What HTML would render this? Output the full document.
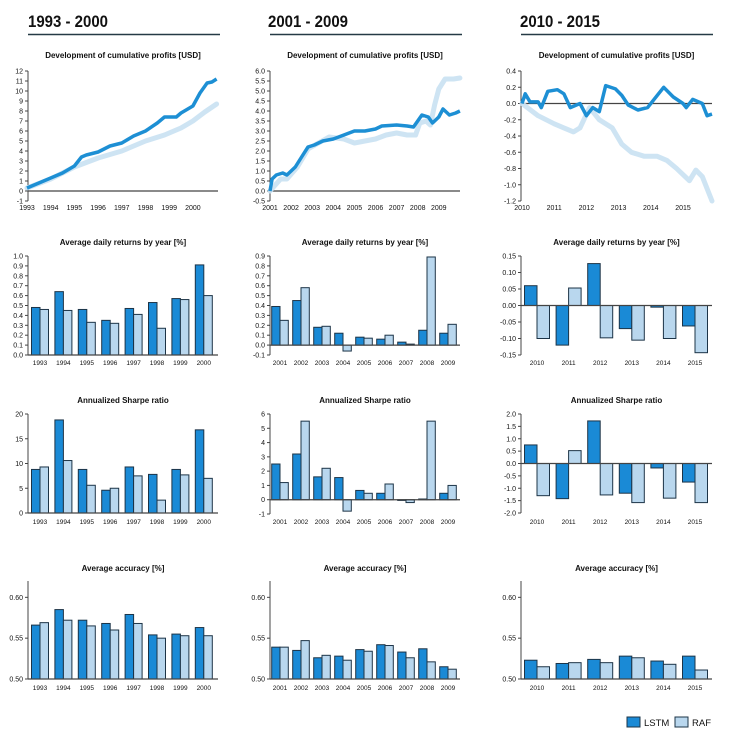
<!DOCTYPE html>
<html><head><meta charset="utf-8"><style>
body{margin:0;background:#fff}
svg{display:block;font-family:"Liberation Sans",sans-serif}
</style></head><body>
<svg id="c" width="731" height="735" viewBox="0 0 731 735" xmlns="http://www.w3.org/2000/svg"></svg>
<script>
// ---------- data ----------
const years1 = ["1993","1994","1995","1996","1997","1998","1999","2000"];
const years2 = ["2001","2002","2003","2004","2005","2006","2007","2008","2009"];
const years3 = ["2010","2011","2012","2013","2014","2015"];

const cum1LstmT = [1993,1993.5,1994,1994.5,1995,1995.3,1995.5,1996,1996.5,1997,1997.5,1998,1998.5,1998.8,1999.3,1999.5,2000,2000.3,2000.6,2000.8,2001];
const cum1LstmV = [0.3,0.8,1.3,1.8,2.5,3.4,3.6,3.9,4.5,4.8,5.5,6.0,6.8,7.4,7.4,7.8,8.5,9.8,10.8,10.9,11.2];
const cum1RafT = [1993,1994,1995,1996,1997,1998,1998.8,1999.5,2000,2000.5,2001];
const cum1RafV = [0.3,1.2,2.4,3.3,4.0,5.0,5.6,6.3,7.0,7.9,8.7];

const cum2LstmT = [2001,2001.1,2001.3,2001.6,2001.8,2002.2,2002.5,2002.8,2003.1,2003.5,2004,2004.5,2005,2005.5,2006,2006.3,2007,2007.5,2007.8,2008,2008.2,2008.5,2008.7,2009,2009.2,2009.5,2009.8,2010];
const cum2LstmV = [0.0,0.6,0.8,0.9,0.8,1.2,1.7,2.2,2.3,2.5,2.6,2.8,3.0,3.0,3.1,3.25,3.3,3.25,3.2,3.5,3.8,3.7,3.4,3.7,4.1,3.8,3.9,4.0];
const cum2RafT = [2001,2001.5,2001.8,2002.3,2002.8,2003.3,2003.8,2004.5,2005,2005.5,2006,2006.5,2007,2007.5,2007.9,2008.1,2008.4,2008.6,2008.8,2009,2009.3,2009.7,2010];
const cum2RafV = [0.0,0.6,0.6,1.2,2.1,2.4,2.7,2.6,2.4,2.5,2.6,2.8,2.9,2.8,2.8,3.4,3.5,3.3,4.3,5.1,5.6,5.6,5.65];

const cum3LstmT = [2010,2010.1,2010.25,2010.5,2010.6,2010.8,2011.1,2011.3,2011.5,2011.8,2012,2012.2,2012.4,2012.6,2012.9,2013.1,2013.3,2013.6,2013.9,2014.2,2014.4,2014.7,2015,2015.1,2015.3,2015.6,2015.75,2015.9];
const cum3LstmV = [0.0,0.12,0.02,0.02,-0.05,0.15,0.17,0.12,-0.05,0.0,-0.15,-0.05,-0.1,0.22,0.18,0.1,-0.02,-0.08,-0.05,0.1,0.2,0.08,0.0,-0.05,0.05,0.0,-0.15,-0.13];
const cum3RafT = [2010,2010.5,2011,2011.3,2011.6,2011.8,2012.1,2012.4,2012.8,2013.1,2013.4,2013.8,2014.2,2014.5,2014.8,2015.2,2015.4,2015.6,2015.9];
const cum3RafV = [0.0,-0.15,-0.25,-0.3,-0.35,-0.3,-0.05,-0.2,-0.3,-0.5,-0.6,-0.65,-0.65,-0.7,-0.8,-0.95,-0.82,-0.9,-1.2];

const ret1Lstm = [0.48,0.64,0.46,0.35,0.47,0.53,0.57,0.91];
const ret1Raf  = [0.46,0.45,0.33,0.32,0.41,0.27,0.56,0.60];
const ret2Lstm = [0.39,0.45,0.18,0.12,0.08,0.06,0.03,0.15,0.12];
const ret2Raf  = [0.25,0.58,0.19,-0.06,0.07,0.10,0.01,0.89,0.21];
const ret3Lstm = [0.06,-0.12,0.127,-0.07,-0.005,-0.062];
const ret3Raf  = [-0.10,0.053,-0.098,-0.105,-0.10,-0.143];

const sh1Lstm = [8.8,18.8,8.8,4.6,9.3,7.8,8.8,16.8];
const sh1Raf  = [9.3,10.6,5.6,5.0,7.5,2.6,7.7,7.0];
const sh2Lstm = [2.5,3.2,1.6,1.55,0.65,0.45,-0.05,0.05,0.45];
const sh2Raf  = [1.2,5.5,2.2,-0.8,0.45,1.1,-0.2,5.5,1.0];
const sh3Lstm = [0.75,-1.42,1.72,-1.2,-0.18,-0.75];
const sh3Raf  = [-1.3,0.52,-1.27,-1.58,-1.4,-1.58];

const acc1Lstm = [0.566,0.585,0.572,0.568,0.579,0.554,0.555,0.563];
const acc1Raf  = [0.569,0.572,0.565,0.560,0.568,0.550,0.553,0.553];
const acc2Lstm = [0.539,0.535,0.526,0.528,0.536,0.542,0.533,0.537,0.515];
const acc2Raf  = [0.539,0.547,0.529,0.523,0.534,0.541,0.526,0.521,0.512];
const acc3Lstm = [0.523,0.519,0.524,0.528,0.522,0.528];
const acc3Raf  = [0.515,0.520,0.520,0.526,0.518,0.511];

const cumTicks1 = [-1,0,1,2,3,4,5,6,7,8,9,10,11,12];
const cumTicks2 = [-0.5,0,0.5,1,1.5,2,2.5,3,3.5,4,4.5,5,5.5,6];
const cumTicks3 = [-1.2,-1.0,-0.8,-0.6,-0.4,-0.2,0,0.2,0.4];
const retTicks1 = [0,0.1,0.2,0.3,0.4,0.5,0.6,0.7,0.8,0.9,1.0];
const retTicks2 = [-0.1,0,0.1,0.2,0.3,0.4,0.5,0.6,0.7,0.8,0.9];
const retTicks3 = [-0.15,-0.10,-0.05,0,0.05,0.10,0.15];
const shTicks1 = [0,5,10,15,20];
const shTicks2 = [-1,0,1,2,3,4,5,6];
const shTicks3 = [-2,-1.5,-1,-0.5,0,0.5,1,1.5,2];
const accTicks = [0.50,0.55,0.60];

// ---------- drawing ----------
const svg = document.getElementById('c');
const NS = 'http://www.w3.org/2000/svg';
const BLUE = '#1a8ad6', LIGHT = '#b9d7ee', DARK = '#1d3447', AX = '#444';
function mk(tag, attrs, parent){const e=document.createElementNS(NS,tag);for(const k in attrs)e.setAttribute(k,attrs[k]);(parent||svg).appendChild(e);return e;}
function txt(x,y,s,size,anchor,weight,parent){const t=mk('text',{x:x,y:y,'font-size':size,'text-anchor':anchor||'middle','font-weight':weight||'normal',fill:'#111'},parent);t.textContent=s;return t;}
function lin(d0,d1,r0,r1){return v=>r0+(v-d0)*(r1-d0===0?0:(r1-r0)/(d1-d0));}

const cols = [
 {x0:28,x1:218,g0:40,step:23.4,bw:8.5,header:"1993 - 2000",hx:28,hw:80,years:years1,t0:1993,tx0:27,tstep:23.7},
 {x0:270,x1:460,g0:280,step:21.0,bw:8.3,header:"2001 - 2009",hx:268,hw:80,years:years2,t0:2001,tx0:270,tstep:21.1},
 {x0:521,x1:712,g0:537,step:31.6,bw:12.5,header:"2010 - 2015",hx:520,hw:80,years:years3,t0:2010,tx0:522,tstep:32.2}
];

function fmt(v,dec){return v.toFixed(dec).replace('-','-');}

function yAxis(g,c,ticks,y,dec,top,bot){
  mk('line',{x1:c.x0,y1:top,x2:c.x0,y2:bot,stroke:AX,'stroke-width':1},g);
  ticks.forEach(v=>{const yy=y(v);
    mk('line',{x1:c.x0-3,y1:yy,x2:c.x0,y2:yy,stroke:AX,'stroke-width':1},g);
    txt(c.x0-5,yy+2.5,fmt(v,dec),7,'end','normal',g);});
}

function linePanel(ci,name,lT,lV,rT,rV,ticks,dec,vmin,vmax){
  const c=cols[ci];
  const g=mk('g',{});
  
  
  const y=lin(vmin,vmax,201,71);
  const x=t=>c.tx0+(t-c.t0)*c.tstep;
  txt((c.x0+c.x1)/2,58,'Development of cumulative profits [USD]',8,'middle','bold',g);
  yAxis(g,c,ticks,y,dec,71,201);
  mk('line',{x1:c.x0,y1:y(0),x2:c.x1,y2:y(0),stroke:AX,'stroke-width':1.2},g);
  c.years.forEach((s,i)=>{txt(x(c.t0+i),210,s,7,'middle','normal',g);});
  const pr=rT.map((t,i)=>x(t).toFixed(1)+','+y(rV[i]).toFixed(1)).join(' ');
  const p1=mk('polyline',{points:pr,fill:'none',stroke:'#c9e1f2','stroke-width':5,'stroke-linejoin':'round','stroke-linecap':'round',opacity:0.9},g);
  
  
  const pl=lT.map((t,i)=>x(t).toFixed(1)+','+y(lV[i]).toFixed(1)).join(' ');
  const p2=mk('polyline',{points:pl,fill:'none',stroke:'#1d8fd4','stroke-width':3.5,'stroke-linejoin':'round'},g);
  
  
}

function barPanel(ci,name,title,titleY,lv,rv,ticks,dec,vmin,vmax,top,bot,labY,baseV){
  const c=cols[ci];
  const g=mk('g',{});
  
  
  const y=lin(vmin,vmax,bot,top);
  txt((c.x0+c.x1)/2,titleY,title,8,'middle','bold',g);
  const b=y(baseV);
  lv.forEach((v,i)=>{const cx=c.g0+i*c.step;
    const r1=mk('rect',{x:cx-c.bw,y:Math.min(y(v),b),width:c.bw,height:Math.max(Math.abs(y(v)-b),0.5),fill:BLUE,stroke:DARK,'stroke-width':1},g);
    
    
    const w=rv[i];
    const r2=mk('rect',{x:cx,y:Math.min(y(w),b),width:c.bw,height:Math.max(Math.abs(y(w)-b),0.5),fill:LIGHT,stroke:DARK,'stroke-width':1},g);
    
    
    txt(cx,labY,c.years[i],6.5,'middle','normal',g);
  });
  yAxis(g,c,ticks,y,dec,top,bot);
  mk('line',{x1:c.x0,y1:b,x2:c.x1,y2:b,stroke:AX,'stroke-width':1.2},g);
}

cols.forEach((c,i)=>{
  const h=txt(c.hx,27,c.header,17,'start','bold');
  h.setAttribute('textLength',c.hw);
  h.setAttribute('lengthAdjust','spacingAndGlyphs');
  
  
  mk('line',{x1:c.x0,y1:34.5,x2:c.x0+192,y2:34.5,stroke:'#253a45','stroke-width':1.5});
});

linePanel(0,'cum-profit-1993-2000',cum1LstmT,cum1LstmV,cum1RafT,cum1RafV,cumTicks1,0,-1,12);
linePanel(1,'cum-profit-2001-2009',cum2LstmT,cum2LstmV,cum2RafT,cum2RafV,cumTicks2,1,-0.5,6);
linePanel(2,'cum-profit-2010-2015',cum3LstmT,cum3LstmV,cum3RafT,cum3RafV,cumTicks3,1,-1.2,0.4);

barPanel(0,'returns-1993-2000','Average daily returns by year [%]',245,ret1Lstm,ret1Raf,retTicks1,1,0,1.0,256,355,365,0);
barPanel(1,'returns-2001-2009','Average daily returns by year [%]',245,ret2Lstm,ret2Raf,retTicks2,1,-0.1,0.9,256,355,365,0);
barPanel(2,'returns-2010-2015','Average daily returns by year [%]',245,ret3Lstm,ret3Raf,retTicks3,2,-0.15,0.15,256,355,365,0);

barPanel(0,'sharpe-1993-2000','Annualized Sharpe ratio',403,sh1Lstm,sh1Raf,shTicks1,0,0,20,414,513,524,0);
barPanel(1,'sharpe-2001-2009','Annualized Sharpe ratio',403,sh2Lstm,sh2Raf,shTicks2,0,-1,6,414,514,524,0);
barPanel(2,'sharpe-2010-2015','Annualized Sharpe ratio',403,sh3Lstm,sh3Raf,shTicks3,1,-2,2,414,513,524,0);

[ [acc1Lstm,acc1Raf,'accuracy-1993-2000'],[acc2Lstm,acc2Raf,'accuracy-2001-2009'],[acc3Lstm,acc3Raf,'accuracy-2010-2015'] ].forEach((a,i)=>{
  barPanel(i,a[2],'Average accuracy [%]',571,a[0],a[1],accTicks,2,0.50,0.62,581,679,690,0.50);
});

// legend
const lg=mk('g',{});


mk('rect',{x:627,y:717,width:13,height:10,fill:BLUE,stroke:DARK,'stroke-width':1},lg);
txt(644,726,'LSTM',9.5,'start','normal',lg);
mk('rect',{x:675,y:717,width:13,height:10,fill:LIGHT,stroke:DARK,'stroke-width':1},lg);
txt(692,726,'RAF',9.5,'start','normal',lg);
</script>
</body></html>
